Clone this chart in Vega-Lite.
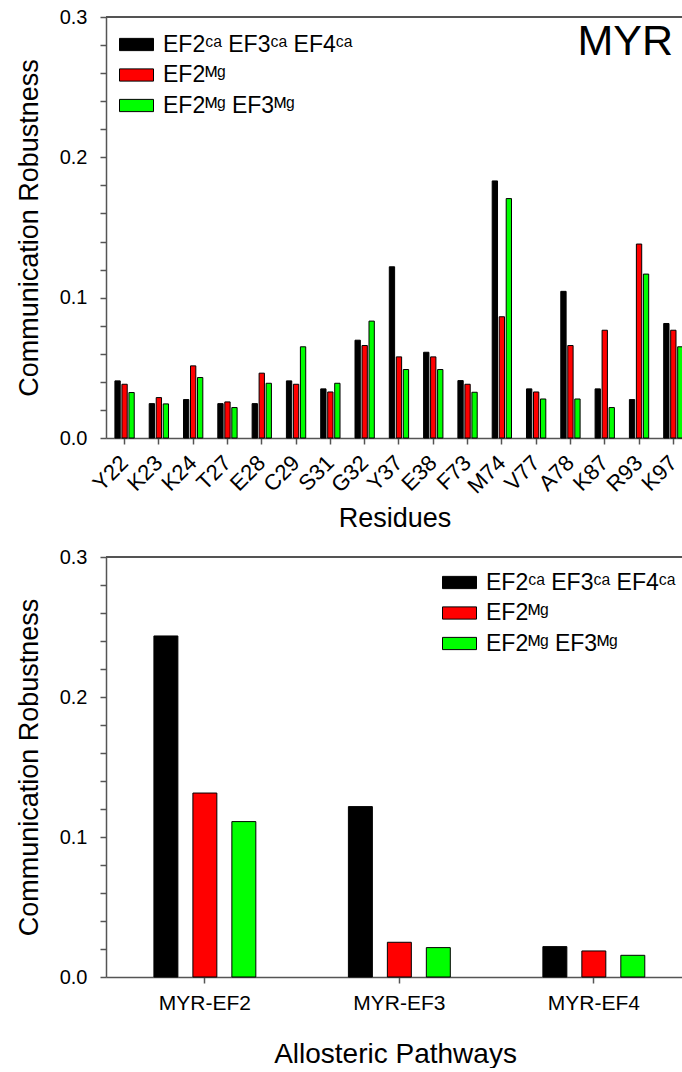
{
  "$schema": "https://vega.github.io/schema/vega-lite/v6.json",
  "padding": {"left": 15, "top": 7, "right": 0, "bottom": 0},
  "background": "white",
  "config": {
    "font": "Liberation Sans",
    "view": {"stroke": null},
    "axis": {"domainColor": "#555", "domainWidth": 1.5, "tickColor": "#555", "tickWidth": 1.5, "labelColor": "black", "titleColor": "black", "titleFontWeight": "normal", "grid": false, "labelFont": "Liberation Sans", "titleFont": "Liberation Sans", "labelOverlap": false},
    "legend": {"title": null, "labelFontSize": 23, "labelFont": "Liberation Sans", "labelColor": "black", "labelLimit": 0, "symbolType": "M-1,-0.36L1,-0.36L1,0.36L-1,0.36Z", "symbolSize": 1156, "symbolStrokeColor": "black", "symbolStrokeWidth": 1, "labelOffset": 9, "rowPadding": 0.5, "padding": 0},
    "concat": {"spacing": 15}
  },
  "datasets": {
    "res": [
      {"r": "Y22", "s": "Ca", "v": 0.0407}, {"r": "Y22", "s": "Mg", "v": 0.0383}, {"r": "Y22", "s": "MgMg", "v": 0.0324},
      {"r": "K23", "s": "Ca", "v": 0.0245}, {"r": "K23", "s": "Mg", "v": 0.0288}, {"r": "K23", "s": "MgMg", "v": 0.0243},
      {"r": "K24", "s": "Ca", "v": 0.0274}, {"r": "K24", "s": "Mg", "v": 0.0514}, {"r": "K24", "s": "MgMg", "v": 0.0431},
      {"r": "T27", "s": "Ca", "v": 0.0245}, {"r": "T27", "s": "Mg", "v": 0.0257}, {"r": "T27", "s": "MgMg", "v": 0.0217},
      {"r": "E28", "s": "Ca", "v": 0.0245}, {"r": "E28", "s": "Mg", "v": 0.0462}, {"r": "E28", "s": "MgMg", "v": 0.039},
      {"r": "C29", "s": "Ca", "v": 0.0407}, {"r": "C29", "s": "Mg", "v": 0.0383}, {"r": "C29", "s": "MgMg", "v": 0.065},
      {"r": "S31", "s": "Ca", "v": 0.035}, {"r": "S31", "s": "Mg", "v": 0.0328}, {"r": "S31", "s": "MgMg", "v": 0.039},
      {"r": "G32", "s": "Ca", "v": 0.0697}, {"r": "G32", "s": "Mg", "v": 0.0659}, {"r": "G32", "s": "MgMg", "v": 0.0833},
      {"r": "Y37", "s": "Ca", "v": 0.122}, {"r": "Y37", "s": "Mg", "v": 0.0578}, {"r": "Y37", "s": "MgMg", "v": 0.0488},
      {"r": "E38", "s": "Ca", "v": 0.0611}, {"r": "E38", "s": "Mg", "v": 0.0578}, {"r": "E38", "s": "MgMg", "v": 0.0488},
      {"r": "F73", "s": "Ca", "v": 0.0409}, {"r": "F73", "s": "Mg", "v": 0.0383}, {"r": "F73", "s": "MgMg", "v": 0.0326},
      {"r": "M74", "s": "Ca", "v": 0.1832}, {"r": "M74", "s": "Mg", "v": 0.0864}, {"r": "M74", "s": "MgMg", "v": 0.1706},
      {"r": "V77", "s": "Ca", "v": 0.035}, {"r": "V77", "s": "Mg", "v": 0.0328}, {"r": "V77", "s": "MgMg", "v": 0.0278},
      {"r": "A78", "s": "Ca", "v": 0.1045}, {"r": "A78", "s": "Mg", "v": 0.0659}, {"r": "A78", "s": "MgMg", "v": 0.0278},
      {"r": "K87", "s": "Ca", "v": 0.035}, {"r": "K87", "s": "Mg", "v": 0.0768}, {"r": "K87", "s": "MgMg", "v": 0.0217},
      {"r": "R93", "s": "Ca", "v": 0.0274}, {"r": "R93", "s": "Mg", "v": 0.1382}, {"r": "R93", "s": "MgMg", "v": 0.1168},
      {"r": "K97", "s": "Ca", "v": 0.0816}, {"r": "K97", "s": "Mg", "v": 0.0768}, {"r": "K97", "s": "MgMg", "v": 0.065}
    ],
    "path": [
      {"p": "MYR-EF2", "s": "Ca", "v": 0.2436}, {"p": "MYR-EF2", "s": "Mg", "v": 0.1314}, {"p": "MYR-EF2", "s": "MgMg", "v": 0.111},
      {"p": "MYR-EF3", "s": "Ca", "v": 0.1217}, {"p": "MYR-EF3", "s": "Mg", "v": 0.0248}, {"p": "MYR-EF3", "s": "MgMg", "v": 0.021},
      {"p": "MYR-EF4", "s": "Ca", "v": 0.0217}, {"p": "MYR-EF4", "s": "Mg", "v": 0.0186}, {"p": "MYR-EF4", "s": "MgMg", "v": 0.0155}
    ]
  },
  "vconcat": [
    {
      "width": 577,
      "height": 421,
      "title": {"text": "MYR", "anchor": "end", "frame": "group", "fontSize": 43, "fontWeight": "normal", "offset": -57, "dx": -10, "font": "Liberation Sans", "color": "black"},
      "data": {"name": "res"},
      "layer": [
        {
          "mark": {"type": "bar", "stroke": "black", "strokeWidth": 1},
          "encoding": {
            "x": {"field": "r", "type": "nominal", "sort": null, "scale": {"paddingInner": 0.437, "paddingOuter": 0.13, "align": 1}, "axis": {"title": "Residues", "labelAngle": -45, "labelAlign": "right", "labelBaseline": "middle", "labelFontSize": 22, "titleFontSize": 27, "tickSize": 6, "labelPadding": 15, "titlePadding": 8}},
            "xOffset": {"field": "s", "type": "nominal", "sort": ["Ca", "Mg", "MgMg"], "scale": {"paddingInner": 0.24, "paddingOuter": 0}},
            "y": {"field": "v", "type": "quantitative", "scale": {"domain": [0, 0.3], "nice": false},
              "axis": {"title": "Communication Robustness", "titleFontSize": 27, "titlePadding": 16, "labelFontSize": 20, "labelPadding": 13, "tickSize": 6, "tickCount": 100, "labelOverlap": false,
                "values": [0, 0.02, 0.04, 0.06, 0.08, 0.1, 0.12, 0.14, 0.16, 0.18, 0.2, 0.22, 0.24, 0.26, 0.28, 0.3],
                "labelExpr": "indexof([0, 5, 10, 15], round(datum.value*50)) >= 0 ? format(datum.value,'.1f') : ''",
                "encode": {"ticks": {"update": {"x2": {"signal": "indexof([0, 5, 10, 15], round(datum.value*50)) >= 0 ? -6 : -3.5"}}}}}},
            "color": {"field": "s", "type": "nominal", "scale": {"domain": ["Ca", "Mg", "MgMg"], "range": ["#000000", "#ff0000", "#00ff00"]},
              "legend": {"orient": "none", "legendX": 13, "legendY": 10, "labelExpr": "datum.value=='Ca' ? 'EF2ᶜᵃ EF3ᶜᵃ EF4ᶜᵃ' : datum.value=='Mg' ? 'EF2ᴹᵍ' : 'EF2ᴹᵍ EF3ᴹᵍ'"}}
          }
        },
        {"mark": {"type": "rule", "color": "#555", "strokeWidth": 1.5}, "encoding": {"y": {"datum": 0.3}}}
      ]
    },
    {
      "width": 578,
      "height": 420,
      "data": {"name": "path"},
      "layer": [
        {
          "mark": {"type": "bar", "stroke": "black", "strokeWidth": 1},
          "encoding": {
            "x": {"field": "p", "type": "nominal", "sort": null, "scale": {"paddingInner": 0.476, "paddingOuter": 0.224, "align": 0.55}, "axis": {"title": "Allosteric Pathways", "labelAngle": 0, "labelFontSize": 21, "titleFontSize": 28, "tickSize": 6, "labelPadding": 9, "titlePadding": 27}},
            "xOffset": {"field": "s", "type": "nominal", "sort": ["Ca", "Mg", "MgMg"], "scale": {"paddingInner": 0.385, "paddingOuter": 0}},
            "y": {"field": "v", "type": "quantitative", "scale": {"domain": [0, 0.3], "nice": false},
              "axis": {"title": "Communication Robustness", "titleFontSize": 27, "titlePadding": 16, "labelFontSize": 20, "labelPadding": 13, "tickSize": 6, "tickCount": 100, "labelOverlap": false,
                "values": [0, 0.02, 0.04, 0.06, 0.08, 0.1, 0.12, 0.14, 0.16, 0.18, 0.2, 0.22, 0.24, 0.26, 0.28, 0.3],
                "labelExpr": "indexof([0, 5, 10, 15], round(datum.value*50)) >= 0 ? format(datum.value,'.1f') : ''",
                "encode": {"ticks": {"update": {"x2": {"signal": "indexof([0, 5, 10, 15], round(datum.value*50)) >= 0 ? -6 : -3.5"}}}}}},
            "color": {"field": "s", "type": "nominal", "scale": {"domain": ["Ca", "Mg", "MgMg"], "range": ["#000000", "#ff0000", "#00ff00"]},
              "legend": {"orient": "top-right", "offset": 8, "labelExpr": "datum.value=='Ca' ? 'EF2ᶜᵃ EF3ᶜᵃ EF4ᶜᵃ' : datum.value=='Mg' ? 'EF2ᴹᵍ' : 'EF2ᴹᵍ EF3ᴹᵍ'"}}
          }
        },
        {"mark": {"type": "rule", "color": "#555", "strokeWidth": 1.5}, "encoding": {"y": {"datum": 0.3}}}
      ]
    }
  ],
  "resolve": {"scale": {"x": "independent", "xOffset": "independent", "y": "independent", "color": "independent"}, "legend": {"color": "independent"}}
}
